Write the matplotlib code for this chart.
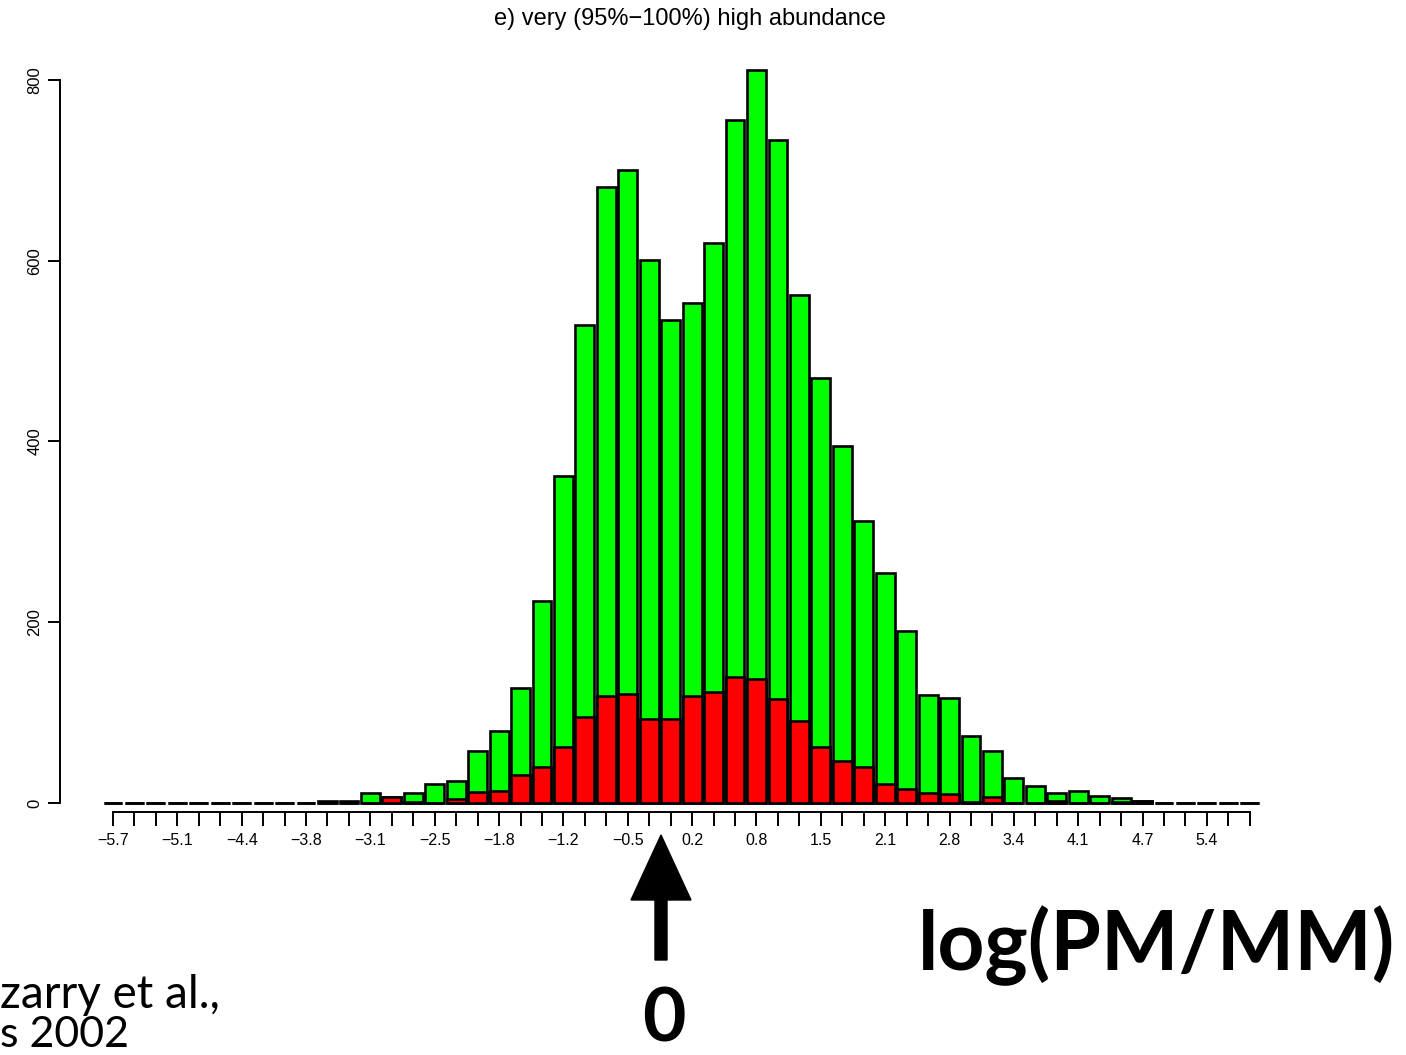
import matplotlib
matplotlib.use("Agg")
import matplotlib.pyplot as plt
from matplotlib.patches import FancyArrow
import numpy as np

# bin counts (all probes) and the red subset
total = [0, 0, 0, 0, 0, 0, 0, 0, 0, 0, 2, 2, 11, 7, 11, 21, 24, 58, 80, 127,
         224, 362, 529, 682, 700, 601, 534, 553, 620, 756, 811, 734, 562, 470,
         395, 312, 254, 190, 119, 116, 74, 58, 28, 19, 11, 13, 8, 5, 2, 0,
         0, 0, 0, 0]
red = [0, 0, 0, 0, 0, 0, 0, 0, 0, 0, 0, 0, 0, 7, 1, 0, 4, 12, 13, 31,
       40, 62, 95, 118, 121, 93, 93, 118, 123, 139, 137, 115, 91, 62,
       46, 40, 21, 16, 11, 10, 1, 7, 0, 0, 2, 0, 0, 1, 2, 0,
       0, 0, 0, 0]
tick_labels = ["−5.7", "−5.1", "−4.4", "−3.8", "−3.1", "−2.5", "−1.8", "−1.2",
               "−0.5", "0.2", "0.8", "1.5", "2.1", "2.8", "3.4", "4.1", "4.7", "5.4"]
y_ticks = [0, 200, 400, 600, 800]
title = "e) very (95%−100%) high abundance"

W, H = 1406, 1055
fig = plt.figure(figsize=(W / 100, H / 100), dpi=100)

# axes box in pixels: x 100..1270, y 60..812 (from top)
ax = fig.add_axes([100 / W, (H - 812) / H, 1170 / W, 752 / H])

x = np.arange(len(total))
ax.bar(x, total, width=0.88, color="#00ff00", edgecolor="black", linewidth=1.9)
ax.bar(x, red, width=0.88, color="#ff0000", edgecolor="black", linewidth=1.9)

ax.set_xlim(-0.606, 53.94)
ax.set_ylim(-9.96, 822.1)

for s in ["top", "right"]:
    ax.spines[s].set_visible(False)
ax.spines["left"].set_position(("outward", 28.8))
ax.spines["left"].set_bounds(0, 800)
ax.spines["bottom"].set_bounds(0, len(total) - 1)
ax.spines["left"].set_linewidth(1.4)
ax.spines["bottom"].set_linewidth(1.4)

labels = [""] * len(total)
for k, lab in enumerate(tick_labels):
    labels[3 * k] = lab
ax.set_xticks(x)
ax.set_xticklabels(labels, fontfamily="Liberation Sans", fontsize=11.5)
ax.set_yticks(y_ticks)
ax.set_yticklabels([str(v) for v in y_ticks], rotation=90, va="center",
                   fontfamily="Liberation Sans", fontsize=12)
ax.tick_params(axis="x", length=10, width=1.4, pad=5)
ax.tick_params(axis="y", length=8.6, width=1.4, pad=4)

fig.text(690 / W, 1 - 19 / H, title, ha="center", va="center",
         fontfamily="Liberation Sans", fontsize=17)

# annotation: arrow pointing at zero
tip_x, tip_y, base_y = 661, 835, 960
fig.add_artist(FancyArrow(tip_x / W, 1 - base_y / H, 0, (base_y - tip_y) / H,
                          width=12 / W, head_width=60 / W, head_length=65 / H,
                          length_includes_head=True, color="black",
                          transform=fig.transFigure))
fig.text(664 / W, 1 / H, "0", ha="center", va="bottom",
         fontfamily="Lato", fontweight="bold", fontsize=54)
fig.text(1395 / W, 1 - 970 / H, "log(PM/MM)", ha="right", va="baseline",
         fontfamily="Lato", fontweight="bold", fontsize=59)
fig.text(0, 1 - 1008 / H, "zarry et al.,", ha="left", va="baseline",
         fontfamily="Lato", fontsize=33)
fig.text(0, 1 / H, "s 2002", ha="left", va="bottom",
         fontfamily="Lato", fontsize=31)

fig.savefig("out.png", dpi=100)
